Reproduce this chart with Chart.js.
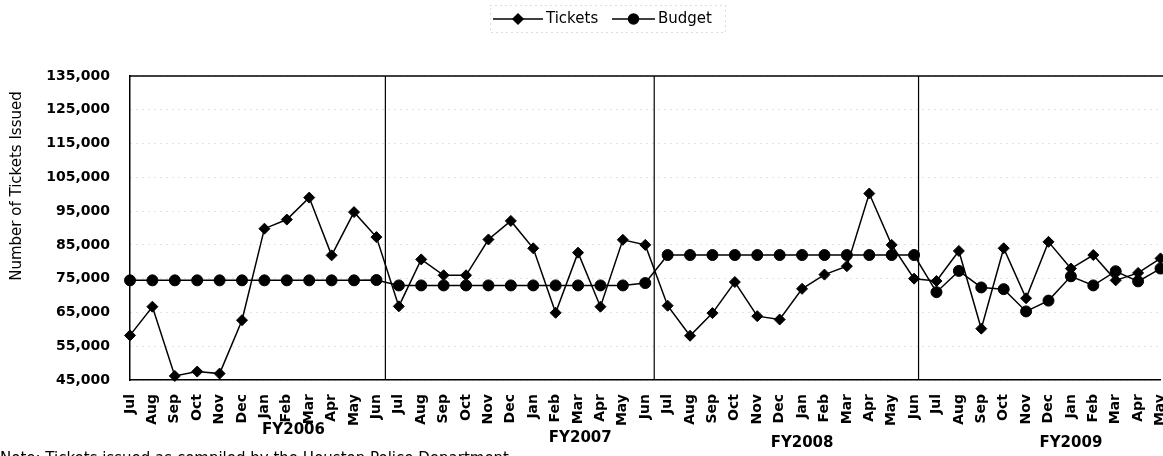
<!DOCTYPE html>
<html>
<head>
<meta charset="utf-8">
<script src="https://cdn.jsdelivr.net/npm/chart.js@4/dist/chart.umd.min.js"></script>
<style>
  html, body { margin: 0; padding: 0; background: #fff; overflow: hidden; }
  #chart { display: block; }
</style>
</head>
<body>
<!-- slightly wider than the window: the original picture is cut at its right edge -->
<canvas id="chart" width="1167" height="456"></canvas>
<script>
// months of each fiscal year (Jul..Jun); FY2009 stops at May in the picture
const months = ["Jul", "Aug", "Sep", "Oct", "Nov", "Dec", "Jan", "Feb", "Mar", "Apr", "May", "Jun"];
const monthLabels = months.concat(months, months, months.slice(0, 11));

const fiscalYears = ["FY2006", "FY2007", "FY2008", "FY2009"];

const tickets = [
    58200, 66700, 46200, 47500, 46900, 62700, 89800, 92500, 99000, 81900, 94700, 87300,
    66800, 80700, 76000, 76000, 86600, 92100, 84000, 64900, 82700, 66700, 86500, 85000,
    67000, 58100, 64800, 74000, 63900, 62900, 72000, 76200, 78700, 100200, 85000, 75000,
    74300, 83200, 60200, 84000, 69200, 85900, 78000, 82000, 74500, 76700, 81000
];

const budget = [
    74500, 74500, 74500, 74500, 74500, 74500, 74500, 74500, 74500, 74500, 74500, 74600,
    73000, 73000, 73000, 73000, 73000, 73000, 73000, 73000, 73000, 73000, 73000, 73700,
    82000, 82000, 82000, 82000, 82000, 82000, 82000, 82000, 82000, 82000, 82000, 82000,
    71000, 77300, 72400, 71900, 65300, 68500, 75700, 73000, 77200, 74200, 78000
];

const FONT = "'DejaVu Sans', Arial, sans-serif";

// frame, fiscal year dividers, legend and free text
const decorations = {
    id: "decorations",
    beforeDatasetsDraw(chart) {
        const { ctx, chartArea } = chart;
        const x = chart.scales.x;
        ctx.save();
        ctx.strokeStyle = "#000";
        ctx.lineWidth = 1.5;
        ctx.beginPath();
        ctx.moveTo(chartArea.left, chartArea.top);
        ctx.lineTo(chart.width, chartArea.top);
        ctx.stroke();
        ctx.lineWidth = 1.2;
        [11.4, 23.4, 35.2].forEach(pos => {
            const px = x.left + (x.getPixelForValue(1) - x.getPixelForValue(0)) * pos;
            ctx.beginPath();
            ctx.moveTo(px, chartArea.top);
            ctx.lineTo(px, chartArea.bottom);
            ctx.stroke();
        });
        ctx.restore();
    },
    afterDraw(chart) {
        const { ctx } = chart;
        const x = chart.scales.x;
        const step = x.getPixelForValue(1) - x.getPixelForValue(0);
        ctx.save();
        ctx.fillStyle = "#000";

        // fiscal year labels
        ctx.font = "bold 15px " + FONT;
        ctx.textAlign = "center";
        ctx.textBaseline = "middle";
        const fyPos = [7.3, 20.1, 30.0, 42.0];
        const fyY = [430, 438, 443, 443];
        fiscalYears.forEach((fy, i) => {
            ctx.fillText(fy, x.left + step * fyPos[i], fyY[i]);
        });

        // y axis title
        ctx.save();
        ctx.translate(17, 186);
        ctx.rotate(-Math.PI / 2);
        ctx.font = "15px " + FONT;
        ctx.fillText("Number of Tickets Issued", 0, 0);
        ctx.restore();

        // note (cut off at the bottom edge)
        ctx.font = "15px " + FONT;
        ctx.textAlign = "left";
        ctx.textBaseline = "alphabetic";
        ctx.fillText("Note: Tickets issued as compiled by the Houston Police Department", 0, 463);

        // legend
        ctx.strokeStyle = "#bbb";
        ctx.lineWidth = 1;
        ctx.setLineDash([1, 4]);
        ctx.strokeRect(490.5, 5.5, 235, 27);
        ctx.setLineDash([]);
        const items = [
            { ds: chart.data.datasets[0], x0: 493, x1: 543, text: 546 },
            { ds: chart.data.datasets[1], x0: 612, x1: 655, text: 658 }
        ];
        const ly = 19;
        items.forEach(it => {
            ctx.strokeStyle = "#000";
            ctx.lineWidth = 1.5;
            ctx.beginPath();
            ctx.moveTo(it.x0, ly);
            ctx.lineTo(it.x1, ly);
            ctx.stroke();
            Chart.helpers.drawPoint(ctx, {
                pointStyle: it.ds.pointStyle,
                radius: it.ds.pointRadius - 0.5,
                rotation: 0,
                borderWidth: 1
            }, (it.x0 + it.x1) / 2, ly);
            ctx.fillStyle = "#000";
            ctx.font = "15px " + FONT;
            ctx.textAlign = "left";
            ctx.textBaseline = "middle";
            ctx.fillText(it.ds.label, it.text, ly);
        });
        ctx.restore();
    }
};

new Chart(document.getElementById("chart"), {
    type: "line",
    data: {
        labels: monthLabels,
        datasets: [
            {
                label: "Tickets",
                data: tickets,
                borderColor: "#000",
                backgroundColor: "#000",
                borderWidth: 1.5,
                pointStyle: "rectRot",
                pointRadius: 5.5,
                pointBorderWidth: 1,
                tension: 0,
                clip: false
            },
            {
                label: "Budget",
                data: budget,
                borderColor: "#000",
                backgroundColor: "#000",
                borderWidth: 1.5,
                pointStyle: "circle",
                pointRadius: 5.5,
                pointBorderWidth: 1,
                tension: 0,
                clip: false
            }
        ]
    },
    options: {
        responsive: false,
        animation: false,
        layout: { padding: { top: 76, left: 0, right: 0, bottom: 0 } },
        plugins: {
            legend: { display: false },
            tooltip: { enabled: false }
        },
        scales: {
            x: {
                offset: false,
                grid: { display: false },
                border: { color: "#000", width: 1.5 },
                ticks: {
                    autoSkip: false,
                    maxRotation: 90,
                    minRotation: 90,
                    padding: 6,
                    color: "#000",
                    font: { family: FONT, size: 14, weight: "bold" }
                },
                afterFit(scale) {
                    scale.height = 76;
                    scale.paddingLeft = 0;
                    scale.paddingRight = 0;
                }
            },
            y: {
                min: 45000,
                max: 135000,
                grid: {
                    color: "#c8c8c8",
                    lineWidth: 1,
                    drawTicks: false
                },
                border: { color: "#000", width: 1.5, dash: [1, 5] },
                ticks: {
                    stepSize: 10000,
                    padding: 20,
                    color: "#000",
                    font: { family: FONT, size: 14, weight: "bold" },
                    callback: v => v.toLocaleString("en-US")
                },
                afterFit(scale) {
                    scale.width = 130;
                    scale.paddingTop = 0;
                    scale.paddingBottom = 0;
                }
            }
        }
    },
    plugins: [decorations]
});
</script>
</body>
</html>
